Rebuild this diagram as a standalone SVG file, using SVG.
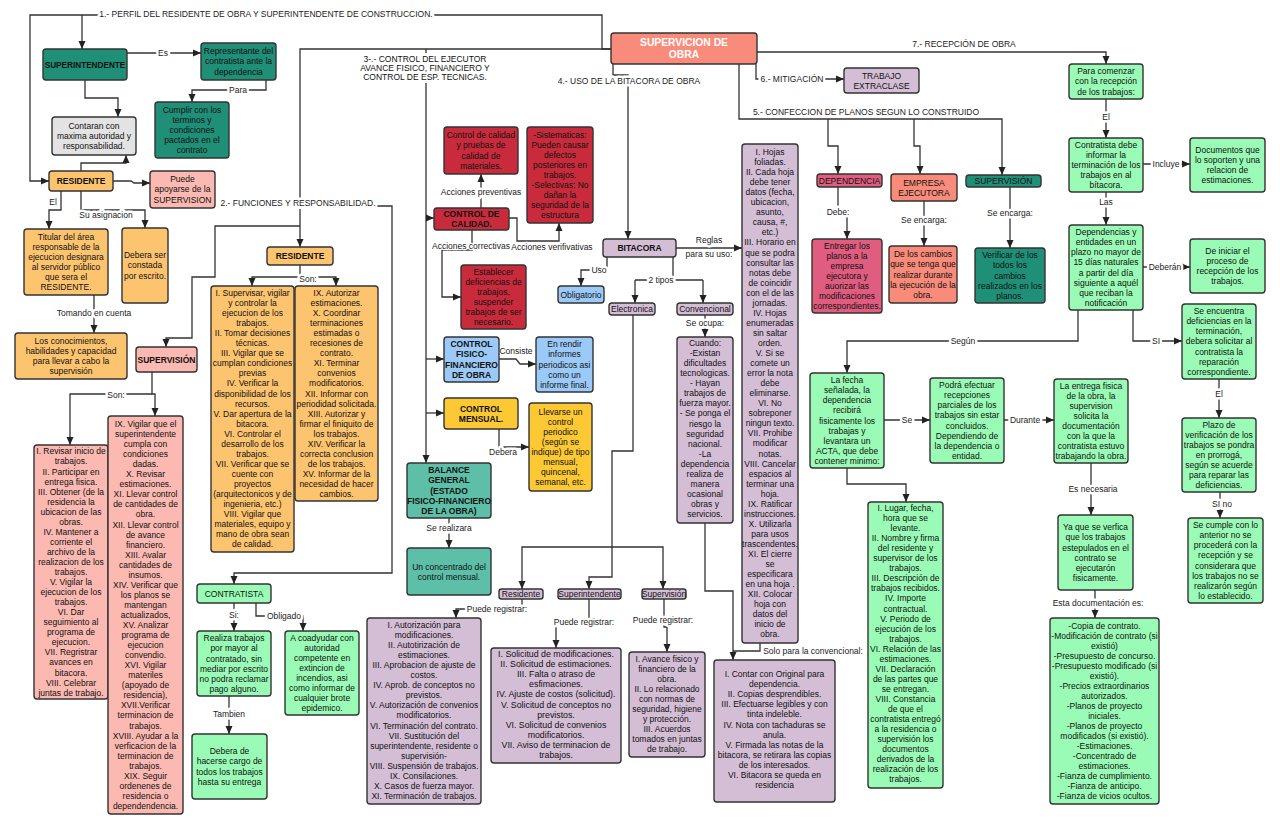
<svg xmlns="http://www.w3.org/2000/svg" width="1280" height="828" viewBox="0 0 1280 828">
<defs>
<marker id="ah" markerUnits="userSpaceOnUse" markerWidth="8" markerHeight="8" refX="8" refY="4" orient="auto"><path d="M0,0.5 L8,4 L0,7.5 z" fill="#222"/></marker>
<style>
.n{stroke:#333;stroke-width:1.4}
.teal{fill:#1f8f78}.teal2{fill:#5dbfa7}.org{fill:#fdc46f}.pink{fill:#fbb9b1}.gray{fill:#e3e3e3}.red{fill:#c92b3c}.blue{fill:#9ccaf8}.yel{fill:#fcc935}.pur{fill:#d4bed6}.grn{fill:#99fbb5}.sal{fill:#f98b7b}.dep{fill:#e05d80}
.t{font-family:"Liberation Sans",Arial,sans-serif;font-size:8.5px;fill:#111;text-anchor:middle}
.b{font-weight:bold}
.c{fill:none;stroke:#333;stroke-width:1.3}
.a{marker-end:url(#ah)}
.lb{font-family:"Liberation Sans",Arial,sans-serif;font-size:8.5px;fill:#222;text-anchor:middle;stroke:#fff;stroke-width:5px;paint-order:stroke;stroke-linejoin:round}
.thin{stroke-width:2.5px}
</style>
</defs>
<rect width="1280" height="828" fill="#fff"/>

<g id="connectors">
<path class="c a" d="M611,49 H602 V15 H30 V181 H49"/>
<path class="c a" d="M82,15 V49"/>
<path class="c a" d="M611,49 H300 V247"/>
<path class="c a" d="M300,226 H215 V277 H192 V338 H166 V347"/>
<path class="c a" d="M377,206 H392 V573 H234 V584"/>
<path class="c a" d="M426,49 V463"/>
<path class="c a" d="M426,218 H434"/>
<path class="c a" d="M426,359 H444"/>
<path class="c a" d="M426,413 H444"/>
<path class="c a" d="M481,208 V174"/>
<path class="c a" d="M509,218 H517 V241 H559 V223"/>
<path class="c a" d="M472,230 V250 H442 V297 H461"/>
<path class="c a" d="M499,359 H516 L520,364 H536"/>
<path class="c a" d="M499,429 V447 H529"/>
<path class="c a" d="M449,518 V548"/>
<path class="c a" d="M127,53 H201"/>
<path class="c a" d="M266,80 V90 H192 V102"/>
<path class="c a" d="M85,80 V98 H118 V117"/>
<path class="c a" d="M81,171 V163 H126 V155"/>
<path class="c a" d="M113,181 H131 L134,183 H150"/>
<path class="c a" d="M61,191 V210 H49 V229"/>
<path class="c a" d="M81,191 V210 H145 V228"/>
<path class="c a" d="M94,295 V333"/>
<path class="c a" d="M152,372 V394 H155 V416"/>
<path class="c a" d="M152,394 H70 V445"/>
<path class="c a" d="M300,265 V277 H336 V286"/>
<path class="c a" d="M300,277 H252 V286"/>
<path class="c a" d="M234,603 V631"/>
<path class="c a" d="M256,603 V616 H303 V631"/>
<path class="c a" d="M229,696 V734"/>
<path class="c a" d="M613,64 V75 H628 V239"/>
<path class="c a" d="M676,248 H742"/>
<path class="c a" d="M607,257 V270 H581 V286"/>
<path class="c" d="M673,257 V280 M635,280 H703"/>
<path class="c a" d="M635,280 V303"/>
<path class="c a" d="M703,280 V303"/>
<path class="c a" d="M705,315 V337"/>
<path class="c a" d="M633,315 V451 H612 V577 H589 V589"/>
<path class="c a" d="M612,547 H522 V589"/>
<path class="c a" d="M612,547 H663 V589"/>
<path class="c a" d="M705,523 V591 H733 V660"/>
<path class="c" d="M760,643 V651 H733"/>
<path class="c a" d="M522,599 V609 H456 V618"/>
<path class="c a" d="M589,599 V622 H556 V648"/>
<path class="c a" d="M664,599 V627 H667 V652"/>
<path class="c a" d="M757,52 H1106 V64"/>
<path class="c a" d="M739,64 V119 H1002 V175"/>
<path class="c a" d="M828,119 V146 H838 V174"/>
<path class="c a" d="M914,119 V146 H920 V174"/>
<path class="c a" d="M756,64 V79 H844"/>
<path class="c a" d="M838,187 V212 H847 V239"/>
<path class="c a" d="M924,201 V246"/>
<path class="c a" d="M1010,187 V248"/>
<path class="c a" d="M1106,99 V138"/>
<path class="c a" d="M1143,164 H1190"/>
<path class="c a" d="M1106,192 V225"/>
<path class="c a" d="M1143,267 H1190"/>
<path class="c a" d="M1133,310 V341 H1182"/>
<path class="c a" d="M1078,310 V341 H847 V373"/>
<path class="c a" d="M1219,379 V418"/>
<path class="c a" d="M1220,492 V518"/>
<path class="c a" d="M884,420 H930"/>
<path class="c a" d="M1004,420 H1054"/>
<path class="c a" d="M1091,463 V515"/>
<path class="c a" d="M1095,590 V618"/>
<path class="c a" d="M847,468 V484 H906 V502"/>

<rect x="100" y="9" width="334" height="11" fill="#fff"/>
<text class="lb" x="266" y="17">1.- PERFIL DEL RESIDENTE DE OBRA Y SUPERINTENDENTE DE CONSTRUCCION.</text>
<rect x="220" y="198" width="157" height="11" fill="#fff"/>
<text class="lb" x="298" y="206">2.- FUNCIONES Y RESPONSABILIDAD.</text>
<rect x="360" y="53" width="132" height="30" fill="#fff"/>
<text class="t" x="425" y="62.3">3-.- CONTROL DEL EJECUTOR<tspan x="425" dy="9">AVANCE FISICO, FINANCIERO Y</tspan><tspan x="425" dy="9">CONTROL DE ESP. TECNICAS.</tspan></text>
<text class="lb" x="629" y="84">4.-  USO DE LA BITACORA DE OBRA</text>
<text class="lb" x="866" y="115">5.- CONFECCION DE PLANOS SEGUN LO CONSTRUIDO</text>
<text class="lb" x="792" y="82">6.- MITIGACIÓN</text>
<text class="lb" x="964" y="47">7.- RECEPCIÓN DE OBRA</text>
<text class="lb" x="481" y="195">Acciones preventivas</text>
<text class="lb thin" x="471" y="249">Acciones correctivas</text>
<text class="lb thin" x="552" y="250">Acciones verifivativas</text>
<text class="lb" x="516" y="354">Consiste</text>
<text class="lb" x="503" y="455">Debera</text>
<text class="lb" x="449" y="531">Se realizara</text>
<text class="lb" x="163" y="55.5">Es</text>
<text class="lb" x="238" y="93">Para</text>
<text class="lb" x="53" y="205">El</text>
<text class="lb" x="106" y="218">Su asignacion</text>
<text class="lb" x="94" y="316">Tomando en cuenta</text>
<text class="lb" x="116" y="398">Son:</text>
<text class="lb" x="308" y="282">Son:</text>
<text class="lb" x="234" y="618">Si:</text>
<text class="lb" x="284" y="619">Obligado</text>
<text class="lb" x="229" y="717">Tambien</text>
<text class="lb" x="709" y="243">Reglas</text>
<text class="lb" x="709" y="257">para su uso:</text>
<text class="lb" x="599" y="273">Uso</text>
<text class="lb" x="661" y="283">2 tipos</text>
<text class="lb" x="705" y="326">Se ocupa:</text>
<text class="lb" x="813" y="654">Solo para la convencional:</text>
<text class="lb" x="497" y="612">Puede registrar:</text>
<text class="lb" x="584" y="625">Puede registrar:</text>
<text class="lb" x="663" y="623">Puede registrar:</text>
<text class="lb" x="838" y="215">Debe:</text>
<text class="lb" x="924" y="223">Se encarga:</text>
<text class="lb" x="1010" y="216">Se encarga:</text>
<text class="lb" x="1106" y="120">El</text>
<text class="lb" x="1166" y="167">Incluye</text>
<text class="lb" x="1106" y="205">Las</text>
<text class="lb" x="1165" y="270">Deberán</text>
<text class="lb" x="1156" y="344">SI</text>
<text class="lb" x="963" y="344">Según</text>
<text class="lb" x="1219" y="397">El</text>
<text class="lb" x="1222" y="507">SI no</text>
<text class="lb" x="907" y="423">Se</text>
<text class="lb" x="1025" y="423">Durante</text>
<text class="lb" x="1093" y="492">Es necesaria</text>
<text class="lb" x="1098" y="606">Esta documentación es:</text>
</g>

<g id="n-supervicion-obra"><rect class="n sal" x="611" y="33" width="146" height="31" rx="3"/><text class="t b" x="684" y="46" style="font-size:10.3px;fill:#fff">SUPERVICION DE<tspan x="684" dy="12">OBRA</tspan></text></g>

<g id="n-superintendente"><rect class="n teal" x="43" y="49" width="84" height="31" rx="3"/><text class="t b" x="85" y="67.5" style="font-size:8.2px">SUPERINTENDENTE</text></g>
<g id="n-representante"><rect class="n teal" x="201" y="43" width="75" height="37" rx="3"/><text class="t" x="238.5" y="54.4">Representante del<tspan x="238.5" dy="10.05">contratista ante la</tspan><tspan x="238.5" dy="10.05">dependencia</tspan></text></g>
<g id="n-cumplir"><rect class="n teal" x="155" y="102" width="74" height="56" rx="3"/><text class="t" x="192" y="112.9">Cumplir con los<tspan x="192" dy="10.05">terminos y</tspan><tspan x="192" dy="10.05">condiciones</tspan><tspan x="192" dy="10.05">pactados en el</tspan><tspan x="192" dy="10.05">contrato</tspan></text></g>
<g id="n-contaran"><rect class="n gray" x="52" y="117" width="84" height="38" rx="3"/><text class="t" x="94" y="128.9">Contaran con<tspan x="94" dy="10.05">maxima autoridad y</tspan><tspan x="94" dy="10.05">responsabilidad.</tspan></text></g>
<g id="n-residente"><rect class="n org" x="49" y="171" width="64" height="20" rx="3"/><text class="t b" x="81" y="184">RESIDENTE</text></g>
<g id="n-puede-apoyarse"><rect class="n pink" x="150" y="171" width="65" height="37" rx="3"/><text class="t" x="182.5" y="182.4">Puede<tspan x="182.5" dy="10.05">apoyarse de la</tspan><tspan x="182.5" dy="10.05">SUPERVISION</tspan></text></g>
<g id="n-titular"><rect class="n org" x="24" y="229" width="84" height="66" rx="3"/><text class="t" x="66" y="239.9">Titular del área<tspan x="66" dy="10.05">responsable de la</tspan><tspan x="66" dy="10.05">ejecucion designara</tspan><tspan x="66" dy="10.05">al servidor público</tspan><tspan x="66" dy="10.05">que sera el</tspan><tspan x="66" dy="10.05">RESIDENTE.</tspan></text></g>
<g id="n-debera-ser"><rect class="n org" x="122" y="228" width="46" height="75" rx="3"/><text class="t" x="145" y="258.4">Debera ser<tspan x="145" dy="10.05">constada</tspan><tspan x="145" dy="10.05">por escrito.</tspan></text></g>
<g id="n-conocimientos"><rect class="n org" x="15" y="333" width="112" height="46" rx="3"/><text class="t" x="71" y="343.9">Los conocimientos,<tspan x="71" dy="10.05">habilidades y capacidad</tspan><tspan x="71" dy="10.05">para llevar a cabo la</tspan><tspan x="71" dy="10.05">supervisión</tspan></text></g>
<g id="n-supervision-pink"><rect class="n pink" x="136" y="347" width="61" height="25" rx="3"/><text class="t b" x="166.5" y="362.5">SUPERVISIÓN</text></g>
<g id="n-sup-funciones-1"><rect class="n pink" x="34" y="445" width="74" height="254" rx="3"/><text class="t" x="71" y="454.4">I. Revisar inicio de<tspan x="71" dy="10.05">trabajos.</tspan><tspan x="71" dy="10.05">II. Participar en</tspan><tspan x="71" dy="10.05">entrega fisica.</tspan><tspan x="71" dy="10.05">III. Obtener (de la</tspan><tspan x="71" dy="10.05">residencia la</tspan><tspan x="71" dy="10.05">ubicacion de las</tspan><tspan x="71" dy="10.05">obras.</tspan><tspan x="71" dy="10.05">IV. Mantener a</tspan><tspan x="71" dy="10.05">corriente el</tspan><tspan x="71" dy="10.05">archivo de la</tspan><tspan x="71" dy="10.05">realizacion de los</tspan><tspan x="71" dy="10.05">trabajos.</tspan><tspan x="71" dy="10.05">V. Vigilar la</tspan><tspan x="71" dy="10.05">ejecucion de los</tspan><tspan x="71" dy="10.05">trabajos.</tspan><tspan x="71" dy="10.05">VI. Dar</tspan><tspan x="71" dy="10.05">seguimiento al</tspan><tspan x="71" dy="10.05">programa de</tspan><tspan x="71" dy="10.05">ejecucion.</tspan><tspan x="71" dy="10.05">VII. Regristrar</tspan><tspan x="71" dy="10.05">avances en</tspan><tspan x="71" dy="10.05">bitacora.</tspan><tspan x="71" dy="10.05">VIII. Celebrar</tspan><tspan x="71" dy="10.05">juntas de trabajo.</tspan></text></g>
<g id="n-sup-funciones-2"><rect class="n pink" x="108" y="416" width="75" height="398" rx="3"/><text class="t" x="145.5" y="427">IX. Vigilar que el<tspan x="145.5" dy="10.05">superintendente</tspan><tspan x="145.5" dy="10.05">cumpla con</tspan><tspan x="145.5" dy="10.05">condiciones</tspan><tspan x="145.5" dy="10.05">dadas.</tspan><tspan x="145.5" dy="10.05">X. Revisar</tspan><tspan x="145.5" dy="10.05">estimaciones.</tspan><tspan x="145.5" dy="10.05">XI. Llevar control</tspan><tspan x="145.5" dy="10.05">de cantidades de</tspan><tspan x="145.5" dy="10.05">obra.</tspan><tspan x="145.5" dy="10.05">XII. Llevar control</tspan><tspan x="145.5" dy="10.05">de avance</tspan><tspan x="145.5" dy="10.05">financiero.</tspan><tspan x="145.5" dy="10.05">XIII. Avalar</tspan><tspan x="145.5" dy="10.05">cantidades de</tspan><tspan x="145.5" dy="10.05">insumos.</tspan><tspan x="145.5" dy="10.05">XIV. Verificar que</tspan><tspan x="145.5" dy="10.05">los planos se</tspan><tspan x="145.5" dy="10.05">mantengan</tspan><tspan x="145.5" dy="10.05">actualizados,</tspan><tspan x="145.5" dy="10.05">XV. Analizar</tspan><tspan x="145.5" dy="10.05">programa de</tspan><tspan x="145.5" dy="10.05">ejecucion</tspan><tspan x="145.5" dy="10.05">convendio.</tspan><tspan x="145.5" dy="10.05">XVI. Vigilar</tspan><tspan x="145.5" dy="10.05">materiles</tspan><tspan x="145.5" dy="10.05">(apoyado de</tspan><tspan x="145.5" dy="10.05">residencia),</tspan><tspan x="145.5" dy="10.05">XVII.Verificar</tspan><tspan x="145.5" dy="10.05">terminacion de</tspan><tspan x="145.5" dy="10.05">trabajos.</tspan><tspan x="145.5" dy="10.05">XVIII. Ayudar a la</tspan><tspan x="145.5" dy="10.05">verficacion de la</tspan><tspan x="145.5" dy="10.05">terminacion de</tspan><tspan x="145.5" dy="10.05">trabajos.</tspan><tspan x="145.5" dy="10.05">XIX. Seguir</tspan><tspan x="145.5" dy="10.05">ordenenes de</tspan><tspan x="145.5" dy="10.05">residencia o</tspan><tspan x="145.5" dy="10.05">dependendencia.</tspan></text></g>

<g id="n-residente-2"><rect class="n org" x="267" y="247" width="66" height="18" rx="3"/><text class="t b" x="300" y="259">RESIDENTE</text></g>
<g id="n-res-funciones-1"><rect class="n org" x="211" y="286" width="83" height="266" rx="3"/><text class="t" x="252.5" y="296">I. Supervisar, vigilar<tspan x="252.5" dy="10.05">y controlar la</tspan><tspan x="252.5" dy="10.05">ejecucion de los</tspan><tspan x="252.5" dy="10.05">trabajos.</tspan><tspan x="252.5" dy="10.05">II. Tomar decisiones</tspan><tspan x="252.5" dy="10.05">técnicas.</tspan><tspan x="252.5" dy="10.05">III. Vigilar que se</tspan><tspan x="252.5" dy="10.05">cumplan condiciones</tspan><tspan x="252.5" dy="10.05">previas</tspan><tspan x="252.5" dy="10.05">IV. Verificar la</tspan><tspan x="252.5" dy="10.05">disponibilidad de los</tspan><tspan x="252.5" dy="10.05">recursos.</tspan><tspan x="252.5" dy="10.05">V. Dar apertura de la</tspan><tspan x="252.5" dy="10.05">bitacora.</tspan><tspan x="252.5" dy="10.05">VI. Controlar el</tspan><tspan x="252.5" dy="10.05">desarrollo de los</tspan><tspan x="252.5" dy="10.05">trabajos.</tspan><tspan x="252.5" dy="10.05">VII. Verificar que se</tspan><tspan x="252.5" dy="10.05">cuente con</tspan><tspan x="252.5" dy="10.05">proyectos</tspan><tspan x="252.5" dy="10.05">(arquitectonicos y de</tspan><tspan x="252.5" dy="10.05">ingenieria, etc.)</tspan><tspan x="252.5" dy="10.05">VIII. Vigilar que</tspan><tspan x="252.5" dy="10.05">materiales, equipo y</tspan><tspan x="252.5" dy="10.05">mano de obra sean</tspan><tspan x="252.5" dy="10.05">de calidad.</tspan></text></g>
<g id="n-res-funciones-2"><rect class="n org" x="295" y="286" width="83" height="215" rx="3"/><text class="t" x="336.5" y="296">IX. Autorizar<tspan x="336.5" dy="10.05">estimaciones.</tspan><tspan x="336.5" dy="10.05">X. Coordinar</tspan><tspan x="336.5" dy="10.05">terminaciones</tspan><tspan x="336.5" dy="10.05">estimadas o</tspan><tspan x="336.5" dy="10.05">recesiones de</tspan><tspan x="336.5" dy="10.05">contrato.</tspan><tspan x="336.5" dy="10.05">XI. Terminar</tspan><tspan x="336.5" dy="10.05">convenios</tspan><tspan x="336.5" dy="10.05">modificatorios.</tspan><tspan x="336.5" dy="10.05">XII. Informar con</tspan><tspan x="336.5" dy="10.05">periodidad solicitada.</tspan><tspan x="336.5" dy="10.05">XIII. Autorizar y</tspan><tspan x="336.5" dy="10.05">firmar el finiquito de</tspan><tspan x="336.5" dy="10.05">los trabajos.</tspan><tspan x="336.5" dy="10.05">XIV. Verificar la</tspan><tspan x="336.5" dy="10.05">correcta conclusion</tspan><tspan x="336.5" dy="10.05">de los trabajos.</tspan><tspan x="336.5" dy="10.05">XV. Informar de la</tspan><tspan x="336.5" dy="10.05">necesidad de hacer</tspan><tspan x="336.5" dy="10.05">cambios.</tspan></text></g>

<g id="n-contratista"><rect class="n grn" x="197" y="584" width="74" height="19" rx="3"/><text class="t" x="234" y="596.5">CONTRATISTA</text></g>
<g id="n-realiza"><rect class="n grn" x="197" y="631" width="74" height="65" rx="3"/><text class="t" x="234" y="641.4">Realiza trabajos<tspan x="234" dy="10.05">por mayor al</tspan><tspan x="234" dy="10.05">contratado, sin</tspan><tspan x="234" dy="10.05">mediar por escrito</tspan><tspan x="234" dy="10.05">no podra reclamar</tspan><tspan x="234" dy="10.05">pago alguno.</tspan></text></g>
<g id="n-debera-de"><rect class="n grn" x="192" y="734" width="75" height="65" rx="3"/><text class="t" x="229.5" y="754.4">Debera de<tspan x="229.5" dy="10.05">hacerse cargo de</tspan><tspan x="229.5" dy="10.05">todos los trabajos</tspan><tspan x="229.5" dy="10.05">hasta su entrega</tspan></text></g>
<g id="n-coadyudar"><rect class="n grn" x="285" y="631" width="74" height="84" rx="3"/><text class="t" x="322" y="640.8">A coadyudar con<tspan x="322" dy="10.05">autoridad</tspan><tspan x="322" dy="10.05">competente en</tspan><tspan x="322" dy="10.05">extincion de</tspan><tspan x="322" dy="10.05">incendios, asi</tspan><tspan x="322" dy="10.05">como informar de</tspan><tspan x="322" dy="10.05">cualquier brote</tspan><tspan x="322" dy="10.05">epidemico.</tspan></text></g>

<g id="n-control-calidad"><rect class="n red" x="434" y="208" width="75" height="22" rx="3"/><text class="t b" x="471.5" y="217">CONTROL DE<tspan x="471.5" dy="10.05">CALIDAD.</tspan></text></g>
<g id="n-pruebas"><rect class="n red" x="444" y="127" width="74" height="47" rx="3"/><text class="t" x="481" y="138.4">Control de calidad<tspan x="481" dy="10.05">y pruebas de</tspan><tspan x="481" dy="10.05">calidad de</tspan><tspan x="481" dy="10.05">materiales.</tspan></text></g>
<g id="n-sistematicas"><rect class="n red" x="527" y="127" width="66" height="96" rx="3"/><text class="t" x="560" y="137.8">-Sistematicas:<tspan x="560" dy="10.05">Pueden causar</tspan><tspan x="560" dy="10.05">defectos</tspan><tspan x="560" dy="10.05">posteriores en</tspan><tspan x="560" dy="10.05">trabajos.</tspan><tspan x="560" dy="10.05">-Selectivas: No</tspan><tspan x="560" dy="10.05">dañan la</tspan><tspan x="560" dy="10.05">seguridad de la</tspan><tspan x="560" dy="10.05">estructura</tspan></text></g>
<g id="n-establecer"><rect class="n red" x="461" y="265" width="65" height="64" rx="3"/><text class="t" x="493.5" y="275">Establecer<tspan x="493.5" dy="10.05">deficiencias de</tspan><tspan x="493.5" dy="10.05">trabajos,</tspan><tspan x="493.5" dy="10.05">suspender</tspan><tspan x="493.5" dy="10.05">trabajos de ser</tspan><tspan x="493.5" dy="10.05">necesario.</tspan></text></g>
<g id="n-control-fisico"><rect class="n blue" x="444" y="337" width="55" height="45" rx="3"/><text class="t b" x="471.5" y="347.4">CONTROL<tspan x="471.5" dy="10.05">FISICO-</tspan><tspan x="471.5" dy="10.05">FINANCIERO</tspan><tspan x="471.5" dy="10.05">DE OBRA</tspan></text></g>
<g id="n-en-rendir"><rect class="n blue" x="536" y="337" width="57" height="55" rx="3"/><text class="t" x="564.5" y="347.4">En rendir<tspan x="564.5" dy="10.05">informes</tspan><tspan x="564.5" dy="10.05">periodicos asi</tspan><tspan x="564.5" dy="10.05">como un</tspan><tspan x="564.5" dy="10.05">informe final.</tspan></text></g>
<g id="n-control-mensual"><rect class="n yel" x="444" y="398" width="74" height="31" rx="3"/><text class="t b" x="481" y="411.5">CONTROL<tspan x="481" dy="10.05">MENSUAL.</tspan></text></g>
<g id="n-llevarse"><rect class="n yel" x="529" y="403" width="63" height="88" rx="3"/><text class="t" x="560.5" y="414.8">Llevarse un<tspan x="560.5" dy="10.05">control</tspan><tspan x="560.5" dy="10.05">periodico</tspan><tspan x="560.5" dy="10.05">(según se</tspan><tspan x="560.5" dy="10.05">indique) de tipo</tspan><tspan x="560.5" dy="10.05">mensual,</tspan><tspan x="560.5" dy="10.05">quincenal,</tspan><tspan x="560.5" dy="10.05">semanal, etc.</tspan></text></g>
<g id="n-balance"><rect class="n teal2" x="407" y="463" width="84" height="55" rx="3"/><text class="t b" x="449" y="473.4">BALANCE<tspan x="449" dy="10.05">GENERAL</tspan><tspan x="449" dy="10.05">(ESTADO</tspan><tspan x="449" dy="10.05">FISICO-FINANCIERO</tspan><tspan x="449" dy="10.05">DE LA OBRA)</tspan></text></g>
<g id="n-concentrado"><rect class="n teal2" x="407" y="548" width="84" height="47" rx="3"/><text class="t" x="449" y="569.5">Un concentrado del<tspan x="449" dy="10.05">control mensual.</tspan></text></g>

<g id="n-bitacora"><rect class="n pur" x="603" y="239" width="73" height="18" rx="3"/><text class="t b" x="639.5" y="251">BITACORA</text></g>
<g id="n-obligatorio"><rect class="n blue" x="558" y="286" width="46" height="17" rx="3"/><text class="t" x="581" y="297.5">Obligatorio</text></g>
<g id="n-electronica"><rect class="n pur" x="609" y="303" width="46" height="12" rx="3"/><text class="t" x="632" y="312">Electronica</text></g>
<g id="n-convencional"><rect class="n pur" x="677" y="303" width="56" height="12" rx="3"/><text class="t" x="705" y="312">Convencional</text></g>
<g id="n-cuando"><rect class="n pur" x="677" y="337" width="56" height="186" rx="3"/><text class="t" x="705" y="346">Cuando:<tspan x="705" dy="10.07">-Existan</tspan><tspan x="705" dy="10.07">dificultades</tspan><tspan x="705" dy="10.07">tecnologicas.</tspan><tspan x="705" dy="10.07">- Hayan</tspan><tspan x="705" dy="10.07">trabajos de</tspan><tspan x="705" dy="10.07">fuerza mayor.</tspan><tspan x="705" dy="10.07">- Se ponga el</tspan><tspan x="705" dy="10.07">riesgo la</tspan><tspan x="705" dy="10.07">seguridad</tspan><tspan x="705" dy="10.07">nacional.</tspan><tspan x="705" dy="10.07">-La</tspan><tspan x="705" dy="10.07">dependencia</tspan><tspan x="705" dy="10.07">realiza de</tspan><tspan x="705" dy="10.07">manera</tspan><tspan x="705" dy="10.07">ocasional</tspan><tspan x="705" dy="10.07">obras y</tspan><tspan x="705" dy="10.07">servicios.</tspan></text></g>
<g id="n-hojas"><rect class="n pur" x="742" y="144" width="56" height="499" rx="3"/><text class="t" x="770" y="155">I. Hojas<tspan x="770" dy="10.05">foliadas.</tspan><tspan x="770" dy="10.05">II. Cada hoja</tspan><tspan x="770" dy="10.05">debe tener</tspan><tspan x="770" dy="10.05">datos (fecha,</tspan><tspan x="770" dy="10.05">ubicacion,</tspan><tspan x="770" dy="10.05">asunto,</tspan><tspan x="770" dy="10.05">causa, #,</tspan><tspan x="770" dy="10.05">etc.)</tspan><tspan x="770" dy="10.05">III. Horario en</tspan><tspan x="770" dy="10.05">que se podra</tspan><tspan x="770" dy="10.05">consultar las</tspan><tspan x="770" dy="10.05">notas debe</tspan><tspan x="770" dy="10.05">de coincidir</tspan><tspan x="770" dy="10.05">con el de las</tspan><tspan x="770" dy="10.05">jornadas.</tspan><tspan x="770" dy="10.05">IV. Hojas</tspan><tspan x="770" dy="10.05">enumeradas</tspan><tspan x="770" dy="10.05">sin saltar</tspan><tspan x="770" dy="10.05">orden.</tspan><tspan x="770" dy="10.05">V. Si se</tspan><tspan x="770" dy="10.05">comete un</tspan><tspan x="770" dy="10.05">error la nota</tspan><tspan x="770" dy="10.05">debe</tspan><tspan x="770" dy="10.05">eliminarse.</tspan><tspan x="770" dy="10.05">VI. No</tspan><tspan x="770" dy="10.05">sobreponer</tspan><tspan x="770" dy="10.05">ningun texto.</tspan><tspan x="770" dy="10.05">VII. Prohibe</tspan><tspan x="770" dy="10.05">modificar</tspan><tspan x="770" dy="10.05">notas.</tspan><tspan x="770" dy="10.05">VIII. Cancelar</tspan><tspan x="770" dy="10.05">espacios al</tspan><tspan x="770" dy="10.05">terminar una</tspan><tspan x="770" dy="10.05">hoja.</tspan><tspan x="770" dy="10.05">IX. Ratificar</tspan><tspan x="770" dy="10.05">instrucciones.</tspan><tspan x="770" dy="10.05">X. Utilizarla</tspan><tspan x="770" dy="10.05">para usos</tspan><tspan x="770" dy="10.05">trascendentes.</tspan><tspan x="770" dy="10.05">XI. El cierre</tspan><tspan x="770" dy="10.05">se</tspan><tspan x="770" dy="10.05">especificara</tspan><tspan x="770" dy="10.05">en una hoja .</tspan><tspan x="770" dy="10.05">XII. Colocar</tspan><tspan x="770" dy="10.05">hoja con</tspan><tspan x="770" dy="10.05">datos del</tspan><tspan x="770" dy="10.05">inicio de</tspan><tspan x="770" dy="10.05">obra.</tspan></text></g>
<g id="n-residente-bit"><rect class="n pur" x="499" y="589" width="44" height="10" rx="2.5"/><text class="t" x="521" y="597">Residente</text></g>
<g id="n-superintendente-bit"><rect class="n pur" x="558" y="589" width="63" height="10" rx="2.5"/><text class="t" x="589.5" y="597">Superintendente</text></g>
<g id="n-supervision-bit"><rect class="n pur" x="642" y="589" width="44" height="10" rx="2.5"/><text class="t" x="664" y="597">Supervisión</text></g>
<g id="n-autorizacion"><rect class="n pur" x="367" y="618" width="114" height="186" rx="3"/><text class="t" x="424" y="628">I. Autorización para<tspan x="424" dy="10.05">modificaciones.</tspan><tspan x="424" dy="10.05">II. Autotirización de</tspan><tspan x="424" dy="10.05">estimaciones.</tspan><tspan x="424" dy="10.05">III. Aprobacion de ajuste de</tspan><tspan x="424" dy="10.05">costos.</tspan><tspan x="424" dy="10.05">IV. Aprob. de conceptos no</tspan><tspan x="424" dy="10.05">previstos.</tspan><tspan x="424" dy="10.05">V. Autorización de convenios</tspan><tspan x="424" dy="10.05">modificatorios.</tspan><tspan x="424" dy="10.05">VI. Terminación del contrato.</tspan><tspan x="424" dy="10.05">VII. Sustitución del</tspan><tspan x="424" dy="10.05">superintendente, residente o</tspan><tspan x="424" dy="10.05">supervisión-</tspan><tspan x="424" dy="10.05">VIII. Suspensión de trabajos.</tspan><tspan x="424" dy="10.05">IX. Consilaciones.</tspan><tspan x="424" dy="10.05">X. Casos de fuerza mayor.</tspan><tspan x="424" dy="10.05">XI. Terminación de trabajos.</tspan></text></g>
<g id="n-solicitud"><rect class="n pur" x="491" y="648" width="130" height="115" rx="3"/><text class="t" x="556" y="657" style="font-size:8.8px">I. Solicitud de modificaciones.<tspan x="556" dy="10.1">II. Solicitud de estimaciones.</tspan><tspan x="556" dy="10.1">III. Falta o atraso de</tspan><tspan x="556" dy="10.1">esfimaciones.</tspan><tspan x="556" dy="10.1">IV. Ajuste de costos (solicitud).</tspan><tspan x="556" dy="10.1">V. Solicitud de conceptos no</tspan><tspan x="556" dy="10.1">previstos.</tspan><tspan x="556" dy="10.1">VI. Solicitud de convenios</tspan><tspan x="556" dy="10.1">modificatorios.</tspan><tspan x="556" dy="10.1">VII. Aviso de terminacion de</tspan><tspan x="556" dy="10.1">trabajos.</tspan></text></g>
<g id="n-avance"><rect class="n pur" x="629" y="652" width="76" height="105" rx="3"/><text class="t" x="667" y="662">I. Avance fisico y<tspan x="667" dy="10.05">financiero de la</tspan><tspan x="667" dy="10.05">obra.</tspan><tspan x="667" dy="10.05">II. Lo relacionado</tspan><tspan x="667" dy="10.05">con normas de</tspan><tspan x="667" dy="10.05">seguridad, higiene</tspan><tspan x="667" dy="10.05">y protección.</tspan><tspan x="667" dy="10.05">III. Acuerdos</tspan><tspan x="667" dy="10.05">tomados en juntas</tspan><tspan x="667" dy="10.05">de trabajo.</tspan></text></g>
<g id="n-contar"><rect class="n pur" x="714" y="660" width="121" height="142" rx="3"/><text class="t" x="774.5" y="677">I. Contar con Original para<tspan x="774.5" dy="10.1">dependencia.</tspan><tspan x="774.5" dy="10.1">II. Copias desprendibles.</tspan><tspan x="774.5" dy="10.1">III. Efectuarse legibles y con</tspan><tspan x="774.5" dy="10.1">tinta indeleble.</tspan><tspan x="774.5" dy="10.1">IV. Nota con tachaduras se</tspan><tspan x="774.5" dy="10.1">anula.</tspan><tspan x="774.5" dy="10.1">V. Firmada las notas de la</tspan><tspan x="774.5" dy="10.1">bitacora, se retirara las copias</tspan><tspan x="774.5" dy="10.1">de los interesados.</tspan><tspan x="774.5" dy="10.1">VI. Bitacora se queda en</tspan><tspan x="774.5" dy="10.1">residencia</tspan></text></g>

<g id="n-trabajo-extraclase"><rect class="n pur" x="844" y="68" width="75" height="25" rx="3"/><text class="t" x="881.5" y="78.5">TRABAJO<tspan x="881.5" dy="10.05">EXTRACLASE</tspan></text></g>
<g id="n-dependencia"><rect class="n dep" x="817" y="174" width="65" height="13" rx="3"/><text class="t" x="849.5" y="183.5">DEPENDENCIA</text></g>
<g id="n-entregar"><rect class="n dep" x="812" y="239" width="70" height="74" rx="3"/><text class="t" x="847" y="248.8">Entregar los<tspan x="847" dy="10.05">planos a la</tspan><tspan x="847" dy="10.05">empresa</tspan><tspan x="847" dy="10.05">ejecutora y</tspan><tspan x="847" dy="10.05">auorizar las</tspan><tspan x="847" dy="10.05">modificaciones</tspan><tspan x="847" dy="10.05">correspondientes.</tspan></text></g>
<g id="n-empresa"><rect class="n sal" x="891" y="174" width="66" height="27" rx="3"/><text class="t" x="924" y="185.5">EMPRESA<tspan x="924" dy="10.05">EJECUTORA</tspan></text></g>
<g id="n-cambios"><rect class="n sal" x="889" y="246" width="68" height="57" rx="3"/><text class="t" x="923" y="257.4">De los cambios<tspan x="923" dy="10.05">que se tenga que</tspan><tspan x="923" dy="10.05">realizar durante</tspan><tspan x="923" dy="10.05">la ejecución de la</tspan><tspan x="923" dy="10.05">obra.</tspan></text></g>
<g id="n-supervision-teal"><rect class="n teal" x="966" y="175" width="75" height="12" rx="3"/><text class="t" x="1003.5" y="184">SUPERVISIÓN</text></g>
<g id="n-verificar"><rect class="n teal" x="975" y="248" width="70" height="55" rx="3"/><text class="t" x="1010" y="258.4">Verificar de los<tspan x="1010" dy="10.05">todos los</tspan><tspan x="1010" dy="10.05">cambios</tspan><tspan x="1010" dy="10.05">realizados en los</tspan><tspan x="1010" dy="10.05">planos.</tspan></text></g>

<g id="n-para-comenzar"><rect class="n grn" x="1069" y="64" width="74" height="35" rx="3"/><text class="t" x="1106" y="74.4">Para comenzar<tspan x="1106" dy="10.05">con la recepción</tspan><tspan x="1106" dy="10.05">de los trabajos:</tspan></text></g>
<g id="n-contratista-debe"><rect class="n grn" x="1069" y="138" width="74" height="54" rx="3"/><text class="t" x="1106" y="147.9">Contratista debe<tspan x="1106" dy="10.05">informar la</tspan><tspan x="1106" dy="10.05">terminación de los</tspan><tspan x="1106" dy="10.05">trabajos en al</tspan><tspan x="1106" dy="10.05">bítacora.</tspan></text></g>
<g id="n-documentos"><rect class="n grn" x="1190" y="138" width="75" height="54" rx="3"/><text class="t" x="1227.5" y="152.9">Documentos que<tspan x="1227.5" dy="10.05">lo soporten y una</tspan><tspan x="1227.5" dy="10.05">relacion de</tspan><tspan x="1227.5" dy="10.05">estimaciones.</tspan></text></g>
<g id="n-dependencias"><rect class="n grn" x="1069" y="225" width="74" height="85" rx="3"/><text class="t" x="1106" y="235.3">Dependencias y<tspan x="1106" dy="10.05">entidades en un</tspan><tspan x="1106" dy="10.05">plazo no mayor de</tspan><tspan x="1106" dy="10.05">15 días naturales</tspan><tspan x="1106" dy="10.05">a partir del día</tspan><tspan x="1106" dy="10.05">siguiente a aquél</tspan><tspan x="1106" dy="10.05">que reciban la</tspan><tspan x="1106" dy="10.05">notificación</tspan></text></g>
<g id="n-de-iniciar"><rect class="n grn" x="1190" y="239" width="75" height="54" rx="3"/><text class="t" x="1227.5" y="253.9">De iniciar el<tspan x="1227.5" dy="10.05">proceso de</tspan><tspan x="1227.5" dy="10.05">recepción de los</tspan><tspan x="1227.5" dy="10.05">trabajos.</tspan></text></g>
<g id="n-se-encuentra"><rect class="n grn" x="1182" y="304" width="74" height="75" rx="3"/><text class="t" x="1219" y="314.3">Se encuentra<tspan x="1219" dy="10.05">deficiencias en la</tspan><tspan x="1219" dy="10.05">terminación,</tspan><tspan x="1219" dy="10.05">debera solicitar al</tspan><tspan x="1219" dy="10.05">contratista la</tspan><tspan x="1219" dy="10.05">reparación</tspan><tspan x="1219" dy="10.05">correspondiente.</tspan></text></g>
<g id="n-plazo"><rect class="n grn" x="1182" y="418" width="74" height="74" rx="3"/><text class="t" x="1219" y="427.8">Plazo de<tspan x="1219" dy="10.05">verificación de los</tspan><tspan x="1219" dy="10.05">trabajos se pondra</tspan><tspan x="1219" dy="10.05">en prorrogá,</tspan><tspan x="1219" dy="10.05">según se acuerde</tspan><tspan x="1219" dy="10.05">para reparar las</tspan><tspan x="1219" dy="10.05">deficiencias.</tspan></text></g>
<g id="n-se-cumple"><rect class="n grn" x="1188" y="518" width="75" height="85" rx="3"/><text class="t" x="1225.5" y="528.3">Se cumple con lo<tspan x="1225.5" dy="10.05">anterior no se</tspan><tspan x="1225.5" dy="10.05">procederá con la</tspan><tspan x="1225.5" dy="10.05">recepción y se</tspan><tspan x="1225.5" dy="10.05">considerara que</tspan><tspan x="1225.5" dy="10.05">los trabajos no se</tspan><tspan x="1225.5" dy="10.05">realizarón según</tspan><tspan x="1225.5" dy="10.05">lo establecido.</tspan></text></g>
<g id="n-la-fecha"><rect class="n grn" x="810" y="373" width="74" height="95" rx="3"/><text class="t" x="847" y="383.3">La fecha<tspan x="847" dy="10.05">señalada, la</tspan><tspan x="847" dy="10.05">dependencia</tspan><tspan x="847" dy="10.05">recibirá</tspan><tspan x="847" dy="10.05">fisicamente los</tspan><tspan x="847" dy="10.05">trabajas y</tspan><tspan x="847" dy="10.05">levantara un</tspan><tspan x="847" dy="10.05">ACTA, que debe</tspan><tspan x="847" dy="10.05">contener minimo:</tspan></text></g>
<g id="n-podra"><rect class="n grn" x="930" y="378" width="74" height="85" rx="3"/><text class="t" x="967" y="388.3">Podrá efectuar<tspan x="967" dy="10.05">recepciones</tspan><tspan x="967" dy="10.05">parciales de los</tspan><tspan x="967" dy="10.05">trabajos sin estar</tspan><tspan x="967" dy="10.05">concluidos.</tspan><tspan x="967" dy="10.05">Dependiendo de</tspan><tspan x="967" dy="10.05">la dependencia o</tspan><tspan x="967" dy="10.05">entidad.</tspan></text></g>
<g id="n-la-entrega"><rect class="n grn" x="1054" y="379" width="74" height="84" rx="3"/><text class="t" x="1091" y="388.8">La entrega fisica<tspan x="1091" dy="10.05">de la obra, la</tspan><tspan x="1091" dy="10.05">supervision</tspan><tspan x="1091" dy="10.05">solicita la</tspan><tspan x="1091" dy="10.05">documentación</tspan><tspan x="1091" dy="10.05">con la que la</tspan><tspan x="1091" dy="10.05">contratista estuvo</tspan><tspan x="1091" dy="10.05">trabajando la obra.</tspan></text></g>
<g id="n-ya-que"><rect class="n grn" x="1058" y="515" width="75" height="75" rx="3"/><text class="t" x="1095.5" y="530.4">Ya que se verfica<tspan x="1095.5" dy="10.05">que los trabajos</tspan><tspan x="1095.5" dy="10.05">estepulados en el</tspan><tspan x="1095.5" dy="10.05">contrato se</tspan><tspan x="1095.5" dy="10.05">ejecutarón</tspan><tspan x="1095.5" dy="10.05">fisicamente.</tspan></text></g>
<g id="n-copia"><rect class="n grn" x="1050" y="618" width="109" height="186" rx="3"/><text class="t" x="1104.5" y="628.6">-Copia de contrato.<tspan x="1104.5" dy="10.05">-Modificación de contrato (si</tspan><tspan x="1104.5" dy="10.05">existió)</tspan><tspan x="1104.5" dy="10.05">-Presupuesto de concurso.</tspan><tspan x="1104.5" dy="10.05">-Presupuesto modificado (si</tspan><tspan x="1104.5" dy="10.05">existió).</tspan><tspan x="1104.5" dy="10.05">-Precios extraordinarios</tspan><tspan x="1104.5" dy="10.05">autorizados.</tspan><tspan x="1104.5" dy="10.05">-Planos de proyecto</tspan><tspan x="1104.5" dy="10.05">iniciales.</tspan><tspan x="1104.5" dy="10.05">-Planos de proyecto</tspan><tspan x="1104.5" dy="10.05">modificados (si existió).</tspan><tspan x="1104.5" dy="10.05">-Estimaciones.</tspan><tspan x="1104.5" dy="10.05">-Concentrado de</tspan><tspan x="1104.5" dy="10.05">estimaciones.</tspan><tspan x="1104.5" dy="10.05">-Fianza de cumplimiento.</tspan><tspan x="1104.5" dy="10.05">-Fianza de anticipo.</tspan><tspan x="1104.5" dy="10.05">-Fianza de vicios ocultos.</tspan></text></g>
<g id="n-lugar"><rect class="n grn" x="868" y="502" width="75" height="286" rx="3"/><text class="t" x="905.5" y="511">I. Lugar, fecha,<tspan x="905.5" dy="10.05">hora que se</tspan><tspan x="905.5" dy="10.05">levante.</tspan><tspan x="905.5" dy="10.05">II. Nombre y firma</tspan><tspan x="905.5" dy="10.05">del residente y</tspan><tspan x="905.5" dy="10.05">supervisor de los</tspan><tspan x="905.5" dy="10.05">trabajos.</tspan><tspan x="905.5" dy="10.05">III. Descripción de</tspan><tspan x="905.5" dy="10.05">trabajos recibidos.</tspan><tspan x="905.5" dy="10.05">IV. Importe</tspan><tspan x="905.5" dy="10.05">contractual.</tspan><tspan x="905.5" dy="10.05">V. Periodo de</tspan><tspan x="905.5" dy="10.05">ejecución de los</tspan><tspan x="905.5" dy="10.05">trabajos.</tspan><tspan x="905.5" dy="10.05">VI. Relación de las</tspan><tspan x="905.5" dy="10.05">estimaciones.</tspan><tspan x="905.5" dy="10.05">VII. Declaración</tspan><tspan x="905.5" dy="10.05">de las partes que</tspan><tspan x="905.5" dy="10.05">se entregan.</tspan><tspan x="905.5" dy="10.05">VIII. Constancia</tspan><tspan x="905.5" dy="10.05">de que el</tspan><tspan x="905.5" dy="10.05">contratista entregó</tspan><tspan x="905.5" dy="10.05">a la residencia o</tspan><tspan x="905.5" dy="10.05">supervisión los</tspan><tspan x="905.5" dy="10.05">documentos</tspan><tspan x="905.5" dy="10.05">derivados de la</tspan><tspan x="905.5" dy="10.05">realización de los</tspan><tspan x="905.5" dy="10.05">trabajos.</tspan></text></g>
</svg>
